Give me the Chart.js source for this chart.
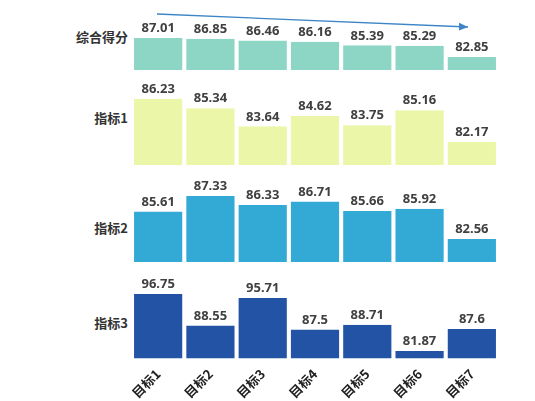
<!DOCTYPE html>
<html><head><meta charset="utf-8">
<script src="https://cdn.jsdelivr.net/npm/chart.js@4"></script>
<style>
body{margin:0;width:535px;height:401px;background:#fff;position:relative;overflow:hidden;font-family:"Noto Sans CJK SC","Noto Sans",sans-serif}
canvas{position:absolute}
.lab{position:absolute;right:407px;font-weight:bold;font-size:13px;color:#333;white-space:nowrap}
</style></head><body>
<div class="lab" style="top:27px">综合得分</div>
<div class="lab" style="top:108px">指标1</div>
<div class="lab" style="top:218px">指标2</div>
<div class="lab" style="top:313px">指标3</div>
<svg width="535" height="401" style="position:absolute;left:0;top:0;z-index:5;pointer-events:none">
<defs><marker id="a" markerWidth="8" markerHeight="8" refX="7" refY="4" orient="auto"><path d="M0,1 L7,4 L0,7 z" fill="#3d85c6"/></marker></defs>
<line x1="157" y1="14" x2="468" y2="27" stroke="#3d85c6" stroke-width="1.3" marker-end="url(#a)"/>
</svg>
<script>
const categories=["目标1","目标2","目标3","目标4","目标5","目标6","目标7"];
const rowNames=["综合得分","指标1","指标2","指标3"];
const overall=[87.01,86.85,86.46,86.16,85.39,85.29,82.85];
const index1=[86.23,85.34,83.64,84.62,83.75,85.16,82.17];
const index2=[85.61,87.33,86.33,86.71,85.66,85.92,82.56];
const index3=[96.75,88.55,95.71,87.5,88.71,81.87,87.6];
const rows=[
 {data:overall,color:"#8dd5c4",top:14,h:56,max:92.25},
 {data:index1,color:"#ecf6a8",top:80,h:85,max:88.0},
 {data:index2,color:"#33aad6",top:180,h:82,max:89.1},
 {data:index3,color:"#2353a4",top:275,h:126,max:101.7,axis:true}
];
const valLabels={id:'vl',afterDatasetsDraw(c){const ctx=c.ctx;const m=c.getDatasetMeta(0);ctx.save();ctx.font="bold 13px 'Noto Sans','DejaVu Sans',sans-serif";ctx.fillStyle="#404040";ctx.textAlign="center";ctx.textBaseline="bottom";
m.data.forEach((b,i)=>ctx.fillText(String(c.data.datasets[0].data[i]),b.x,b.y-3));ctx.restore();}};
rows.forEach((r,k)=>{
 const cv=document.createElement('canvas');
 const wrap=document.createElement('div');wrap.style.cssText=`position:absolute;left:0;top:${r.top}px;width:535px;height:${r.h}px`;
 cv.style.top="0px";cv.style.left="0px";wrap.appendChild(cv);document.body.appendChild(wrap);
 new Chart(cv,{type:'bar',data:{labels:categories,datasets:[{label:rowNames[k],data:r.data,backgroundColor:r.color,borderColor:"#fff",borderWidth:{left:1,right:1},barPercentage:0.96,categoryPercentage:1}]},
 options:{responsive:true,maintainAspectRatio:false,animation:false,layout:{padding:{left:132,right:37,top:0,bottom:0}},
  plugins:{legend:{display:false},tooltip:{enabled:false}},
  scales:{y:{display:false,min:80,max:r.max},
   x:{display:!!r.axis,grid:{display:false},border:{display:false},ticks:{maxRotation:45,minRotation:45,color:"#222",font:{size:13,weight:'bold',family:"'Noto Sans CJK SC',sans-serif"},padding:0}}}},
 plugins:[valLabels]});
});
</script>
</body></html>
